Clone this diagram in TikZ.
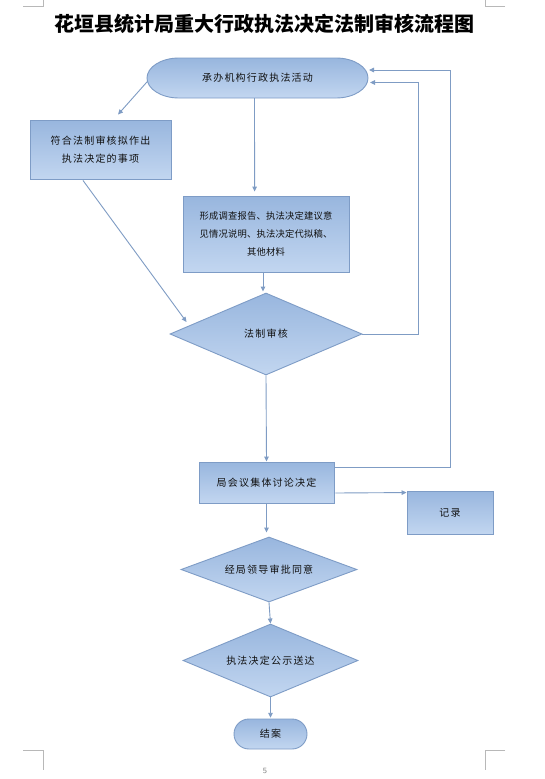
\documentclass[tikz,border=0pt]{standalone}
\usepackage{fontspec}
\setmainfont{Liberation Sans}
\newfontfamily\cjk{Noto Sans CJK SC}
\newfontfamily\cjkls{Noto Sans CJK SC}[LetterSpace=12]
\newfontfamily\cjkm{Noto Sans CJK SC}[LetterSpace=2]
\usetikzlibrary{arrows.meta,shapes.geometric,calc}
\definecolor{bordc}{HTML}{7E9CC6}
\definecolor{linec}{HTML}{7F9CC4}
\definecolor{topc}{HTML}{98B6DE}
\definecolor{botc}{HTML}{C2D6F0}
\definecolor{txtc}{HTML}{111111}
\definecolor{markc}{HTML}{B8B8B8}
\tikzset{
  shp/.style={draw=bordc, line width=0.9pt, top color=topc, bottom color=botc, inner sep=0pt, align=center, text=txtc, font=\cjkls\fontsize{10}{17.5}\selectfont},
  boxn/.style={shp, rectangle},
  decn/.style={shp, diamond, aspect=2.6},
  capn/.style={inner sep=0pt, align=center, text=txtc, font=\cjkls\fontsize{10}{17.5}\selectfont},
  capfill/.style={draw=bordc, line width=0.9pt, top color=topc, bottom color=botc},
  arr/.style={draw=linec, line width=0.9pt, -{Triangle[length=5pt,width=4.5pt]}},
  ln/.style={draw=linec, line width=0.9pt},
  cornermk/.style={draw=markc, line width=0.7pt}
}
\begin{document}
\begin{tikzpicture}[x=1pt,y=-1pt]
\useasboundingbox (0,0) rectangle (544,779);
\fill[white] (0,0) rectangle (544,779);
% corner marks
\draw[cornermk] (23,6) -- (43,6) -- (43,0);
\draw[cornermk] (505,6) -- (485,6) -- (485,0);
\draw[cornermk] (23,750) -- (43,750) -- (43,770);
\draw[cornermk] (505,750) -- (485,750) -- (485,770);
% title
\node[font=\cjk\bfseries\fontsize{20}{24}\selectfont, text=black] (title) at (264,24) {花垣县统计局重大行政执法决定法制审核流程图};
% capsules
\path[capfill] (179,58) -- (336,58) arc[start angle=-90, end angle=90, x radius=32, y radius=20] -- (179,98) arc[start angle=90, end angle=270, x radius=32, y radius=20] -- cycle;
\node[capn, minimum width=221pt, minimum height=40pt] (start) at (257.5,78) {承办机构行政执法活动};
\path[capfill] (249,719) -- (292,719) arc[start angle=-90, end angle=90, radius=15] -- (249,749) arc[start angle=90, end angle=270, radius=15] -- cycle;
\node[capn, minimum width=73pt, minimum height=30pt] (end) at (270.5,734) {结案};
% boxes
\node[boxn, minimum width=141pt, minimum height=59pt] (b1) at (100.5,149.5) {符合法制审核拟作出\\执法决定的事项};
\node[boxn, minimum width=166pt, minimum height=76pt, font=\cjkm\fontsize{9.3}{17.8}\selectfont] (b2) at (266,234) {形成调查报告、执法决定建议意\\见情况说明、执法决定代拟稿、\\其他材料};
\node[boxn, minimum width=135pt, minimum height=41pt] (b3) at (266.5,482.5) {局会议集体讨论决定};
\node[boxn, minimum width=86pt, minimum height=43pt] (b4) at (450,512.5) {记录};
% diamonds
\node[decn, minimum width=192pt, minimum height=82pt] (d1) at (266,334) {法制审核};
\node[decn, minimum width=176pt, minimum height=65pt] (d2) at (269,569.5) {经局领导审批同意};
\node[decn, minimum width=175pt, minimum height=73pt] (d3) at (270.5,660.5) {执法决定公示送达};
% helper coordinates
\coordinate (r1) at (418,0);
\coordinate (r2) at (450,0);
\coordinate (s1) at (370,82.5);
\coordinate (s2) at (369,70);
% connectors
\draw[arr] ([shift={(1,3)}]start.west) -- ([shift={(17.5,-5)}]b1.north);
\draw[arr] ([xshift=-3pt]start.south) -- ([shift={(-11.4,-4)}]b2.north);
\draw[arr] ([shift={(-17.5,1)}]b1.south) -- ([shift={(17,-12)}]d1.west);
\draw[arr] ([xshift=-3pt]b2.south) -- ([shift={(-3,-1)}]d1.north);
\draw[arr] (d1.east) -- (d1.east -| r1) -- (r1 |- s1) -- (s1);
\draw[arr] (d1.south) -- (b3.north);
\draw[arr] ([shift={(0,6)}]b3.north east) -- ($(b3.north east -| r2)+(0,6)$) -- (r2 |- s2) -- (s2);
\draw[arr] ([shift={(1,10.5)}]b3.east) -- ($(b4.north west)+(0,2)$);
\draw[arr, shorten >=4pt] (b3.south) -- (b3.south |- d2.north);
\draw[arr] (d2.south) -- (d3.north);
\draw[arr, shorten >=1pt] (d3.south) -- (end.north);
% page number
\node[font=\sffamily\fontsize{8}{9}\selectfont, text=gray] (pg) at (265,771) {5};
\end{tikzpicture}
\end{document}
